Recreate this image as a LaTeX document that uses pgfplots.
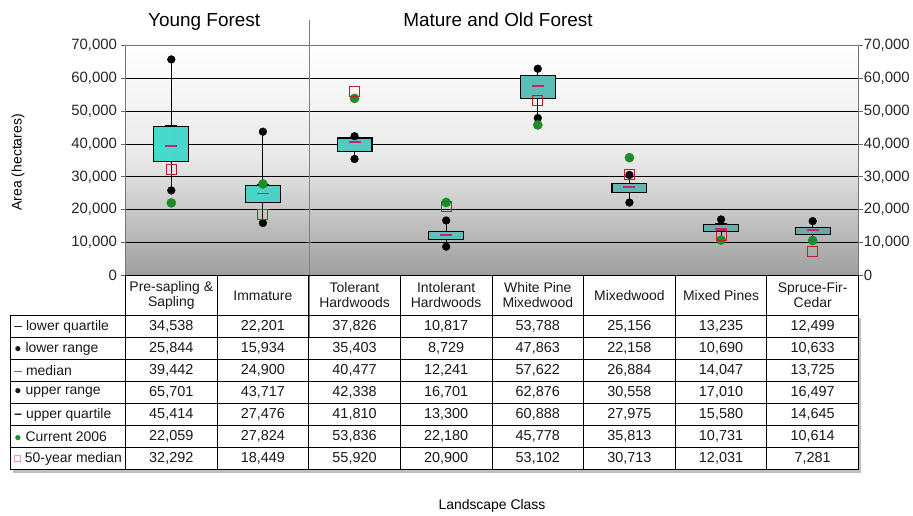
\documentclass[border=0pt]{standalone}
\usepackage{fontspec}
\setmainfont{Liberation Sans}
\usepackage{pgfplots}
\usepackage{pgfplotstable}
\pgfplotsset{compat=1.18}
\definecolor{tq}{RGB}{70,218,204}
\definecolor{tq2}{RGB}{112,165,168}
\definecolor{medc}{RGB}{210,30,110}
\definecolor{curc}{RGB}{30,140,40}
\definecolor{fifc}{RGB}{190,30,45}
\newcommand\fs{\fontsize{14}{15}\selectfont}
\newcommand\ft{\fontsize{15}{16}\selectfont}
\pgfkeys{/pgf/number format/.cd,1000 sep={,},assume math mode=true}
\pgfplotstableread{
x   lq    lr    med   ur    uq    cur   fif
0.5 34538 25844 39442 65701 45414 22059 32292
1.5 22201 15934 24900 43717 27476 27824 18449
2.5 37826 35403 40477 42338 41810 53836 55920
3.5 10817 8729  12241 16701 13300 22180 20900
4.5 53788 47863 57622 62876 60888 45778 53102
5.5 25156 22158 26884 30558 27975 35813 30713
6.5 13235 10690 14047 17010 15580 10731 12031
7.5 12499 10633 13725 16497 14645 10614 7281
}\data
\pgfplotsset{geom/.style={at={(126pt,241.5pt)}, anchor=south west, width=736pt, height=231pt,
  scale only axis, xmin=0, xmax=8, ymin=0, ymax=70000, clip=false,
  ytick={0,10000,20000,30000,40000,50000,60000,70000}, scaled y ticks=false,
  axis line style={black!55}, tick style={black!60, line width=0.6pt},
  tick align=outside, major tick length=5pt}}
\begin{document}
\begin{tikzpicture}
\begin{scope}[x=1pt,y=1pt]
\path[use as bounding box] (0,0) rectangle (913,518);
\node[font=\fontsize{19}{21}\selectfont, anchor=base] at (205,491) {Young Forest};
\node[font=\fontsize{19}{21}\selectfont, anchor=base] at (500,491) {Mature and Old Forest};
\node[font=\fs, rotate=90] at (18,355) {Area (hectares)};
\node[font=\fs] at (494,10) {Landscape Class};
\end{scope}
% axis A: background, grid, left ticks, whiskers (lower range to upper range)
\begin{axis}[geom, xtick=\empty, ymajorgrids, grid style={black, line width=0.8pt},
  ytick pos=left,
  axis background/.style={top color=white, bottom color=black!38, middle color=black!9},
  yticklabel style={font=\ft, text=black!85}, unbounded coords=jump]
\addplot[black, line width=0.9pt, mark=none] coordinates {
  (0.5,25844) (0.5,65701) (0.5,nan)
  (1.5,15934) (1.5,43717) (1.5,nan)
  (2.5,35403) (2.5,42338) (2.5,nan)
  (3.5,8729)  (3.5,16701) (3.5,nan)
  (4.5,47863) (4.5,62876) (4.5,nan)
  (5.5,22158) (5.5,30558) (5.5,nan)
  (6.5,10690) (6.5,17010) (6.5,nan)
  (7.5,10633) (7.5,16497)};
\end{axis}
% axis B: boxes from lower quartile to upper quartile
\begin{axis}[geom, hide axis, ybar stacked, bar width=35pt, enlargelimits=false]
\addplot[draw=none, fill=none] table[x=x, y=lq] {\data};
\addplot[draw=black, line width=1.1pt, left color=tq, right color=tq2]
  table[x=x, y expr=\thisrow{uq}-\thisrow{lq}] {\data};
\end{axis}
% axis C: right ticks and all markers
\begin{axis}[geom, hide x axis, axis y line*=right,
  yticklabel style={font=\ft, text=black!85, xshift=-3pt}]
\addplot[only marks, mark=-, mark size=6pt, black, mark options={line width=1pt}] table[x=x, y=lq] {\data};
\addplot[only marks, mark=*, mark size=3.9pt, black] table[x=x, y=lr] {\data};
\addplot[only marks, mark=-, mark size=6pt, medc, mark options={line width=1.8pt}] table[x=x, y=med] {\data};
\addplot[only marks, mark=*, mark size=3.9pt, black] table[x=x, y=ur] {\data};
\addplot[only marks, mark=-, mark size=6pt, black, mark options={line width=1.4pt}] table[x=x, y=uq] {\data};
\addplot[only marks, mark=*, mark size=4.6pt, curc] table[x=x, y=cur] {\data};
\addplot[only marks, mark=square, mark size=5pt, fifc, mark options={line width=1pt}] table[x=x, y=fif] {\data};
\end{axis}
\begin{scope}[x=1pt,y=1pt]
\draw[black!50, line width=1.5pt] (311,498) -- (311,180);
\draw[black, line width=0.8pt] (126,241.5) rectangle (862,201.3);
\foreach \y in {201.3,179.1,157.0,134.8,112.7,90.5,68.4,46.3}
  \draw[black, line width=0.8pt] (10,\y) -- (862,\y);
\draw[black, line width=0.8pt] (10,201.3) -- (10,46.3);
\foreach \x in {126,218,310,402,494,586,678,770,862}
  \draw[black, line width=0.8pt] (\x,241.5) -- (\x,46.3);
\fill[black!25] (862.4,199) rectangle (865,44);
\fill[black!25] (13,46) rectangle (865,43.5);
\foreach \t [count=\i from 0] in {{Pre-sapling \&\\Sapling},{Immature},{Tolerant\\Hardwoods},{Intolerant\\Hardwoods},{White Pine\\Mixedwood},{Mixedwood},{Mixed Pines},{Spruce-Fir-\\Cedar}}
  \node[font=\fs, align=center, text=black!90] at (172+92*\i,221.4) {\t};
\foreach \r/\vals in {0/{34538,22201,37826,10817,53788,25156,13235,12499},
                      1/{25844,15934,35403,8729,47863,22158,10690,10633},
                      2/{39442,24900,40477,12241,57622,26884,14047,13725},
                      3/{65701,43717,42338,16701,62876,30558,17010,16497},
                      4/{45414,27476,41810,13300,60888,27975,15580,14645},
                      5/{22059,27824,53836,22180,45778,35813,10731,10614},
                      6/{32292,18449,55920,20900,53102,30713,12031,7281}}
  \foreach \v [count=\i from 0] in \vals
    \node[font=\fontsize{14.5}{15}\selectfont, text=black!90] at (172+92*\i,190.2-22.14*\r) {\pgfmathprintnumber{\v}};
\node[font=\fs, anchor=west, text=black!90] at (11,190.2) {– lower quartile};
\node[font=\fs, anchor=west, text=black!90] at (11,168.1) {{\fontsize{12}{12}\selectfont ●} lower range};
\node[font=\fs, anchor=west, text=black!90] at (11,145.9) {{\color{medc}–} median};
\node[font=\fs, anchor=west, text=black!90] at (11,123.8) {{\fontsize{12}{12}\selectfont ●} upper range};
\node[font=\fs, anchor=west, text=black!90] at (11,101.6) {{\bfseries –} upper quartile};
\node[font=\fs, anchor=west, text=black!90] at (11,79.5) {{\fontsize{12}{12}\selectfont\color{curc}●} Current 2006};
\node[font=\fs, anchor=west, text=black!90] at (11,57.4) {{\fontsize{11}{11}\selectfont\color{fifc}□} 50-year median};
\end{scope}
\end{tikzpicture}
\end{document}
